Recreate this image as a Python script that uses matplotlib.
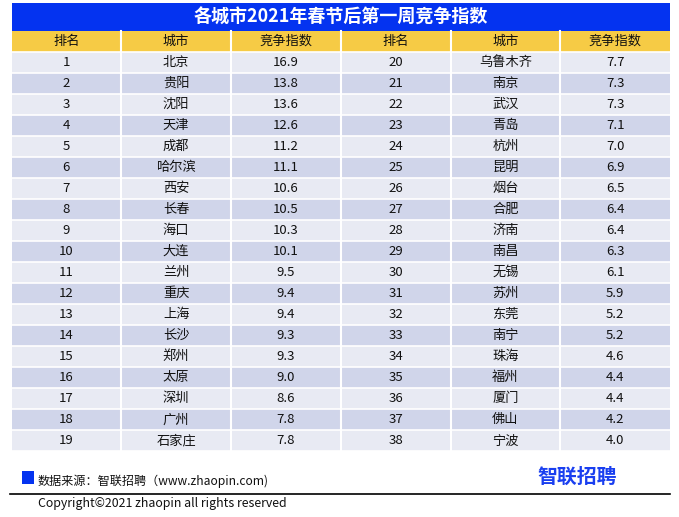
import matplotlib
matplotlib.use("Agg")
import matplotlib.pyplot as plt
from matplotlib.patches import Rectangle

plt.rcParams['font.family'] = ['Noto Sans CJK SC', 'DejaVu Sans']

title = "各城市2021年春节后第一周竞争指数"
headers = ["排名", "城市", "竞争指数", "排名", "城市", "竞争指数"]
ranks_left = list(range(1, 20))
cities_left = ["北京", "贵阳", "沈阳", "天津", "成都", "哈尔滨", "西安", "长春", "海口", "大连",
               "兰州", "重庆", "上海", "长沙", "郑州", "太原", "深圳", "广州", "石家庄"]
values_left = [16.9, 13.8, 13.6, 12.6, 11.2, 11.1, 10.6, 10.5, 10.3, 10.1,
               9.5, 9.4, 9.4, 9.3, 9.3, 9.0, 8.6, 7.8, 7.8]
ranks_right = list(range(20, 39))
cities_right = ["乌鲁木齐", "南京", "武汉", "青岛", "杭州", "昆明", "烟台", "合肥", "济南", "南昌",
                "无锡", "苏州", "东莞", "南宁", "珠海", "福州", "厦门", "佛山", "宁波"]
values_right = [7.7, 7.3, 7.3, 7.1, 7.0, 6.9, 6.5, 6.4, 6.4, 6.3,
                6.1, 5.9, 5.2, 5.2, 4.6, 4.4, 4.4, 4.2, 4.0]
source = "数据来源：智联招聘（www.zhaopin.com)"
copyright_text = "Copyright©2021 zhaopin all rights reserved"
logo = "智联招聘"

W, H = 679, 517
fig = plt.figure(figsize=(W / 100, H / 100), dpi=100)
ax = fig.add_axes([0, 0, 1, 1])
ax.set_xlim(0, W)
ax.set_ylim(H, 0)
ax.axis('off')

left, right = 11.5, 670
col_edges = [left + i * (right - left) / 6 for i in range(7)]
title_top, title_bot = 3, 30.5
head_top, head_bot = 30.5, 51.5
row_h = 21.05
blue = "#0433F0"
yellow = "#F6CB45"
row_a = "#E8EAF3"
row_b = "#D0D5EA"
txt = "#111111"

# title band
ax.add_patch(Rectangle((left, title_top), right - left, title_bot - title_top, color=blue, lw=0))
ax.text((left + right) / 2, (title_top + title_bot) / 2 + 0.5, title, color="white",
        fontsize=13, fontweight="bold", ha="center", va="center")

# header
for i, h in enumerate(headers):
    x0, x1 = col_edges[i], col_edges[i + 1]
    ax.add_patch(Rectangle((x0, head_top), x1 - x0, head_bot - head_top, color=yellow, lw=0))
    ax.text((x0 + x1) / 2, (head_top + head_bot) / 2, h, fontsize=9.5, ha="center", va="center",
            color=txt)

rows = list(zip(ranks_left, cities_left, values_left, ranks_right, cities_right, values_right))
for r, row in enumerate(rows):
    y0 = head_bot + r * row_h
    color = row_a if r % 2 == 0 else row_b
    cells = [str(row[0]), row[1], f"{row[2]:.1f}", str(row[3]), row[4], f"{row[5]:.1f}"]
    for i, c in enumerate(cells):
        x0, x1 = col_edges[i], col_edges[i + 1]
        ax.add_patch(Rectangle((x0, y0), x1 - x0, row_h, color=color, lw=0))
        ax.text((x0 + x1) / 2, y0 + row_h / 2, c, fontsize=9.5, ha="center", va="center",
                color=txt)

table_bot = head_bot + len(rows) * row_h
# white grid lines
for x in col_edges[1:-1]:
    ax.plot([x, x], [head_top, table_bot], color="white", lw=1.5)
for r in range(len(rows) + 1):
    y = head_bot + r * row_h
    ax.plot([left, right], [y, y], color="white", lw=1.2)

# footer
ax.add_patch(Rectangle((22, 471), 12, 13, color=blue, lw=0))
ax.text(38, 481, source, fontsize=8.7, ha="left", va="center", color=txt)
ax.text(577, 476, logo, fontsize=14.3, fontweight="bold", ha="center", va="center", color="#1A3FF0")
ax.plot([10, right], [494, 494], color="black", lw=1.2)
ax.text(38, 503, copyright_text, fontsize=8.9, ha="left", va="center", color=txt)

fig.savefig("out.png", dpi=100)
